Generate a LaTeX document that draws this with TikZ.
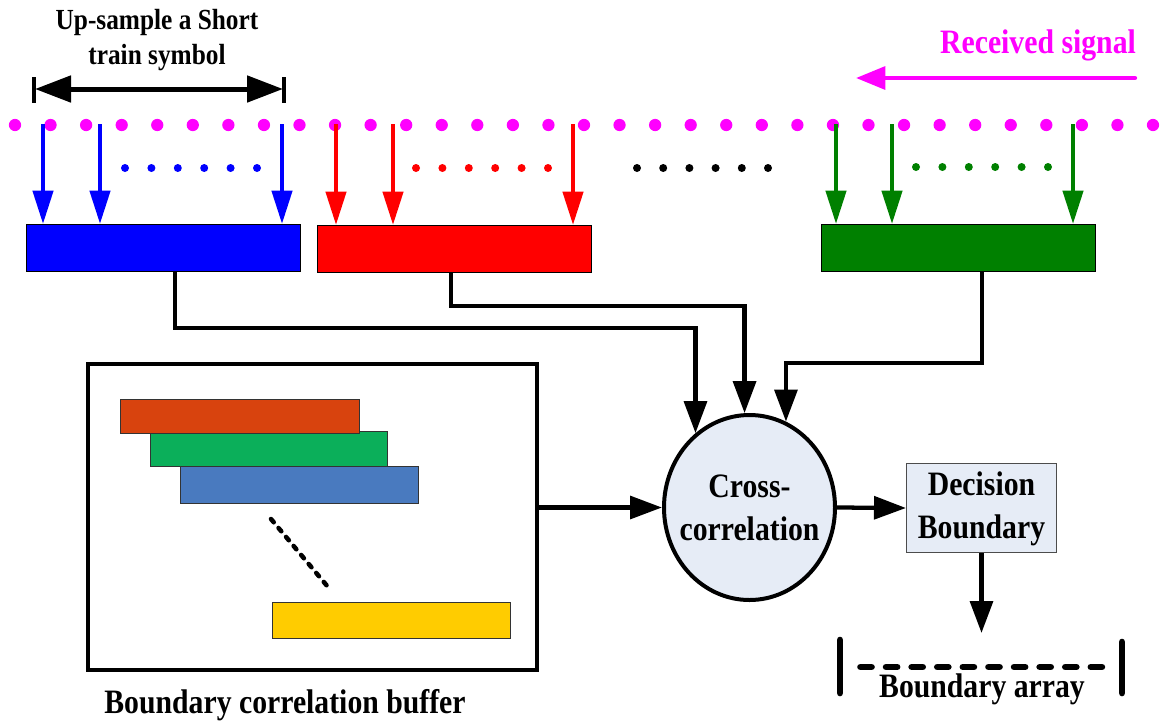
\documentclass[tikz,border=0pt]{standalone}
\usepackage{fontspec}
\setmainfont{Liberation Serif}
\usepackage{graphicx}
\usetikzlibrary{arrows.meta,shapes.geometric}

\definecolor{sigmag}{RGB}{255,0,255}
\definecolor{sgreen}{RGB}{0,128,0}
\definecolor{nodefill}{RGB}{230,236,246}
\definecolor{barorange}{RGB}{216,67,14}
\definecolor{bargreen}{RGB}{11,175,90}
\definecolor{barblue}{RGB}{73,122,191}
\definecolor{baryellow}{RGB}{255,204,0}

% slightly tall bold lettering
\newcommand{\tall}[1]{\scalebox{1}[1.15]{#1}}
\newcommand{\twoline}[2]{\tall{\begin{tabular}{@{}c@{}}#1\\#2\end{tabular}}}

\begin{document}
\begin{tikzpicture}[x=0.75pt,y=-0.75pt,
  lbl/.style={font=\bfseries\fontsize{22.3}{28}\selectfont, inner sep=0pt},
  smalllbl/.style={font=\bfseries\fontsize{19}{22.8}\selectfont, inner sep=0pt},
  sbox/.style={draw=black, line width=0.75pt, minimum width=205.5pt,
    minimum height=35.25pt, inner sep=0pt, anchor=north west},
  feed/.style={line width=3.2pt, -{Triangle[length=25pt,width=15pt]}},
  conn/.style={line width=3.2pt, -{Triangle[length=24pt,width=17pt]}},
  bar/.style={draw=black!80, line width=0.6pt},
]
\useasboundingbox (0,0) rectangle (1161,722);

% ---- received signal samples
\foreach \k in {0,...,32}
  \fill[sigmag] (15+35.5625*\k,125) circle (4.6pt);

\node[lbl, text=sigmag, anchor=base] (rstext) at (1038,53) {\tall{Received signal}};
\coordinate (rs1) at (1135,78);
\coordinate (rs2) at (856,78);
\draw[sigmag, line width=3.2pt, line cap=round, -{Triangle[length=22pt,width=17pt]}] (rs1) -- (rs2);

% ---- up-sampled symbol span
\node[smalllbl] (ustext) at (157,40) {\tall{\begin{tabular}{@{}c@{}}Up-sample a Short\\train symbol\end{tabular}}};
\coordinate (usL) at (35,89);
\coordinate (usR) at (283,89);
\draw[line width=3pt] (34,77) -- (34,103);
\draw[line width=3pt] (284,77) -- (284,103);
\draw[line width=3.75pt, {Triangle[length=27pt,width=19.5pt]}-{Triangle[length=27pt,width=19.5pt]}] (usL) -- (usR);

% ---- symbol blocks
\node[sbox, fill=blue] (bbox) at (26,224) {};
\node[sbox, fill=red] (rbox) at (317,225) {};
\node[sbox, fill=sgreen] (gbox) at (821,224) {};

% ---- sample feeds
\foreach \xa/\nm in {43/ba1, 100/ba2, 282/ba3}{
  \coordinate (\nm) at (\xa,124);
  \draw[feed, blue] (\nm) -- (\nm |- bbox.north);
}
\foreach \xa/\nm in {336/ra1, 393/ra2, 573/ra3}{
  \coordinate (\nm) at (\xa,124);
  \draw[feed, red] (\nm) -- (\nm |- rbox.north);
}
\foreach \xa/\nm in {836/ga1, 892/ga2, 1073/ga3}{
  \coordinate (\nm) at (\xa,124);
  \draw[feed, sgreen] (\nm) -- (\nm |- gbox.north);
}

% ---- ellipsis dots
\foreach \k in {0,...,5}{
  \fill[blue]   (125+26.4*\k,168) circle (3pt);
  \fill[red]    (416+26.4*\k,168) circle (3pt);
  \fill[black]  (637+26.2*\k,168) circle (3pt);
  \fill[sgreen] (916+26.4*\k,167) circle (3pt);
}

% ---- correlator and decision
\node[ellipse, draw, line width=3pt, fill=nodefill, minimum width=128.25pt,
      minimum height=138.75pt, inner sep=0pt] (cc) at (749.5,507.5) {};
\node[lbl] (cctext) at ([yshift=-2pt]cc.center) {\twoline{Cross-}{correlation}};

\node[draw=black!70, line width=0.75pt, fill=nodefill, minimum width=112.5pt,
      minimum height=66.75pt, inner sep=0pt, lbl] (dec) at (981.5,508)
      {\twoline{Decision}{Boundary}};

% ---- boundary correlation buffer
\node[draw, line width=3pt, minimum width=336.75pt, minimum height=229.5pt,
      inner sep=0pt] (buf) at (312.5,517) {};
\draw[bar, fill=bargreen]  (150,431) rectangle (387,466);
\draw[bar, fill=barorange] (120,399) rectangle (359,433);
\draw[bar, fill=barblue]   (180,466) rectangle (418,503);
\draw[bar, fill=baryellow] (272,602) rectangle (510,638);
\draw[line width=3.4pt, line cap=round, dash pattern=on 3.2pt off 5.6pt] (271,519) -- (328,587);
\node[lbl, anchor=base] (buftext) at (285,713) {\tall{Boundary correlation buffer}};

% ---- connections into the correlator
\coordinate (j1) at (cc.126.4 |- 0,328);
\coordinate (j2) at (cc.93.3 |- 0,306);
\coordinate (j3) at (cc.67 |- 0,363);
\draw[conn] (bbox.south west) ++(149,0) |- (j1) -- (cc.126.4);
\draw[conn] (rbox.south west) ++(134,0) |- (j2) -- (cc.93.3);
\draw[conn] (gbox.south west) ++(161,0) |- (j3) -- (cc.67);
\draw[conn] (buf.east |- cc.west) -- (cc.west);
\draw[conn] (cc.east) -- (dec.west);

% ---- boundary array
\coordinate (arrtip) at (982,633);
\draw[conn] (dec.south) -- (dec.south |- arrtip);
\draw[line width=5pt, line cap=round] (840,640) -- (840,693);
\draw[line width=5pt, line cap=round] (1122,642) -- (1122,693);
\draw[line width=5pt, line cap=round, dash pattern=on 8.25pt off 10.95pt] (860.5,667) -- (1102,667);
\node[lbl, anchor=base] (arrtext) at (982,697) {\tall{Boundary array}};
\end{tikzpicture}
\end{document}
